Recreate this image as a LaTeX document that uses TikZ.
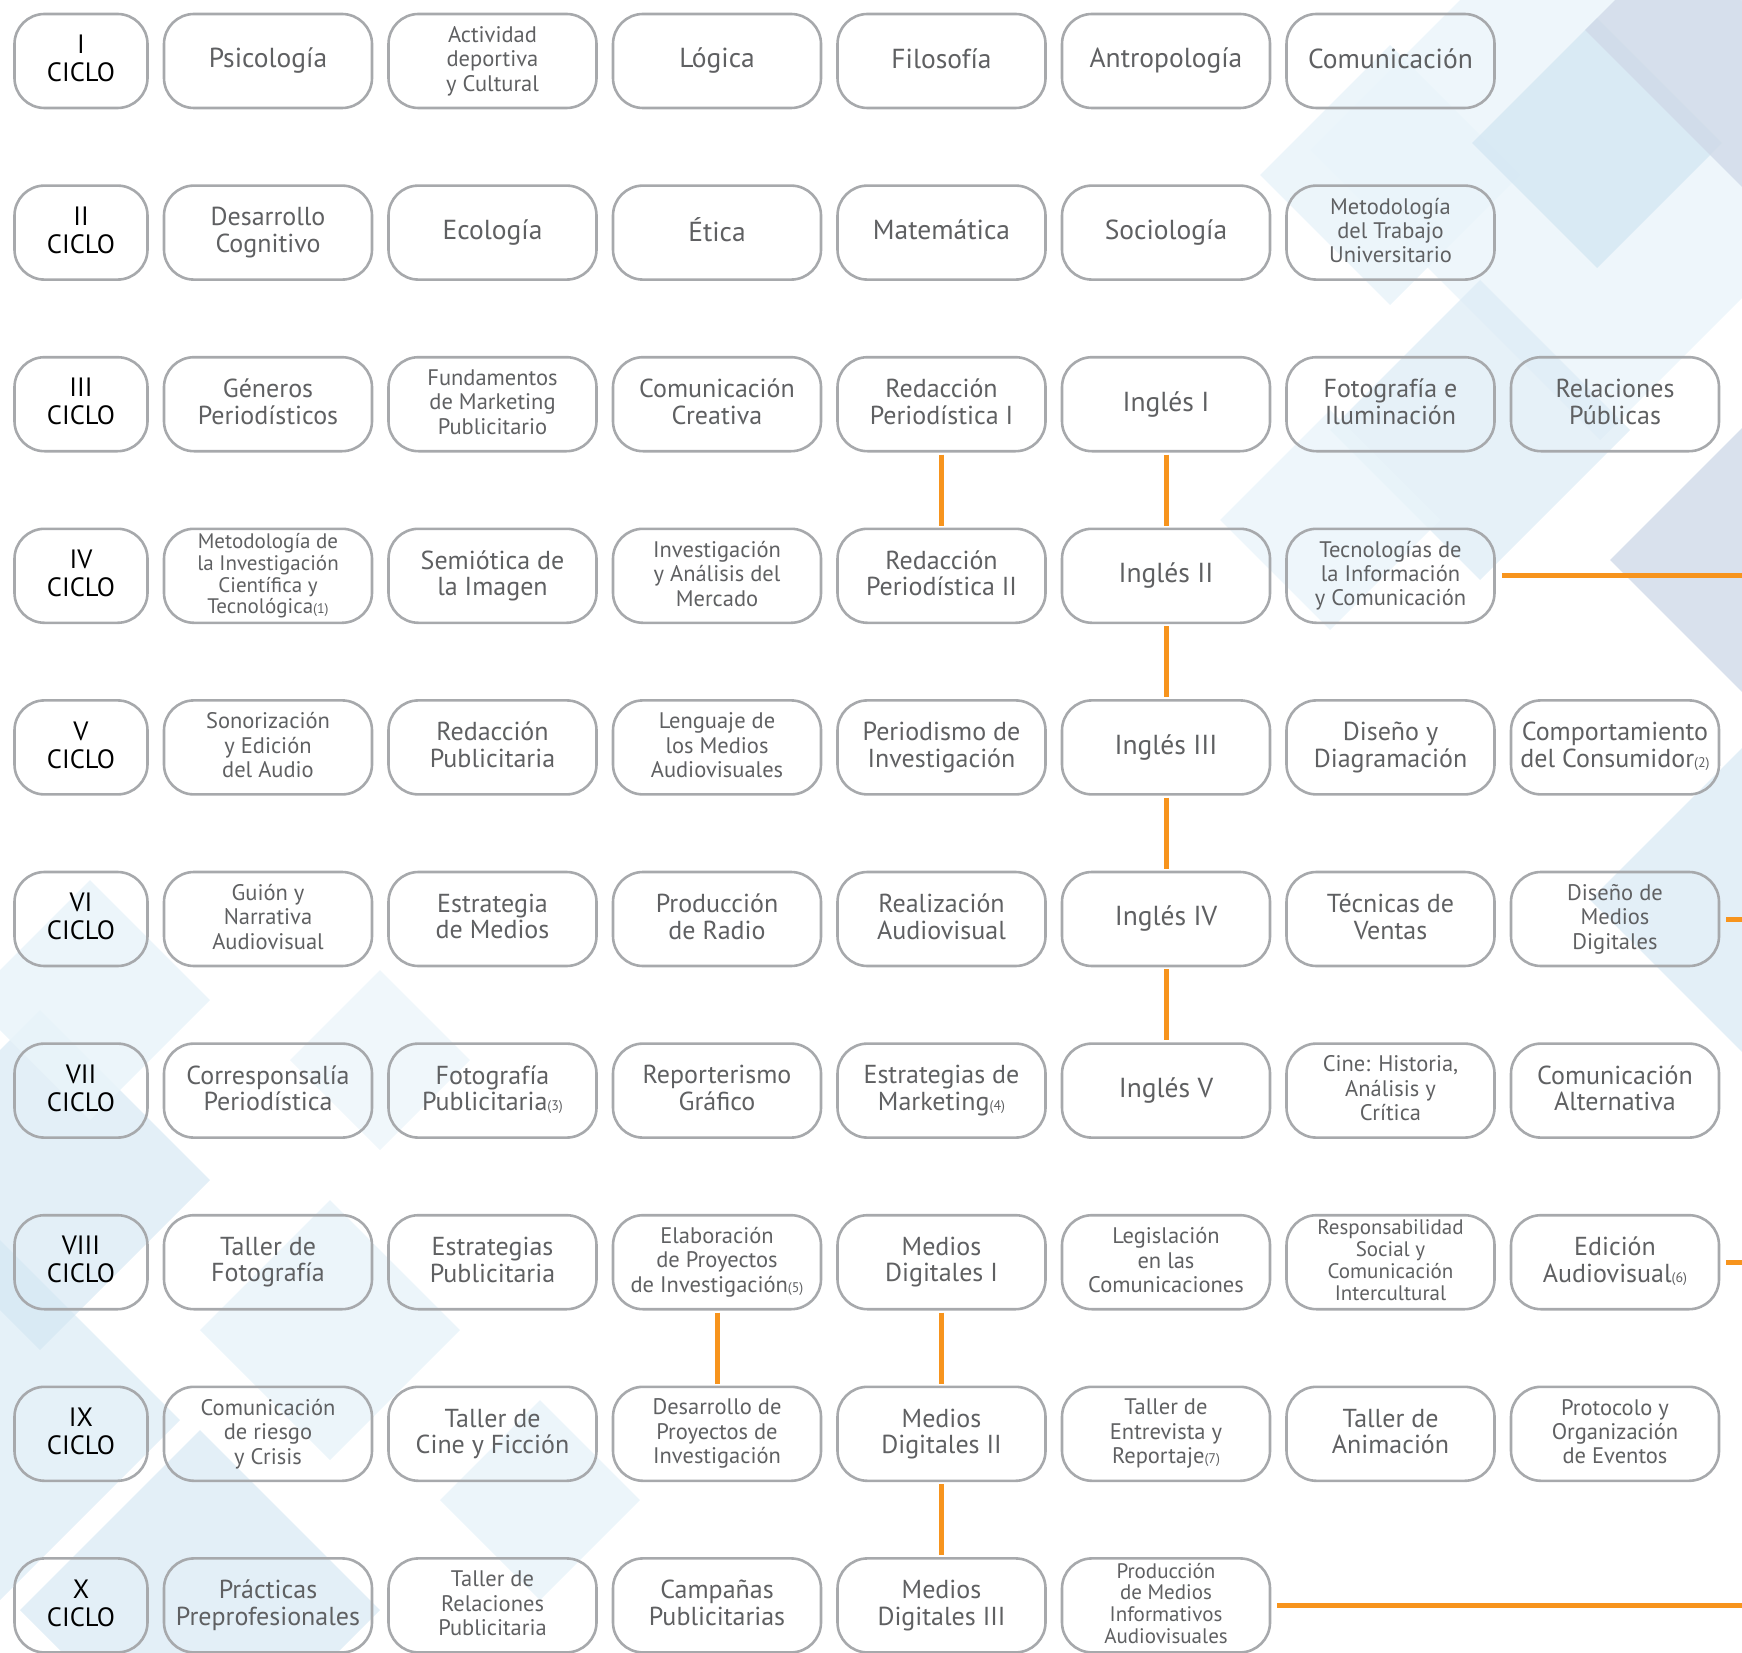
\documentclass[tikz,border=0pt]{standalone}
\usepackage{fontspec}
\setmainfont{PT Sans}
\definecolor{boxgray}{HTML}{A7A9AC}
\definecolor{textgray}{HTML}{5F6062}
\definecolor{orng}{HTML}{F7941D}
\definecolor{bgA}{HTML}{EAF4FA}
\definecolor{bgB}{HTML}{D4E7F3}
\definecolor{bgC}{HTML}{D0DAE8}
\definecolor{bgD}{HTML}{DCEBF5}
\newcommand\nsub[1]{{\fontsize{14}{14}\selectfont(#1)}}
\newcommand\cell[4]{\node[box,#3] (r#1c#2) at ({268+(#2-1)*224.5},{61+#1*171.6}) {#4};}
\newcommand\cyc[2]{\node[ciclo] (r#1c0) at (81,{61+#1*171.6}) {#2\\CICLO};}
\newcommand\dia[4]{\fill[#4] (#1,#2) +(-#3,0) -- +(0,-#3) -- +(#3,0) -- +(0,#3) -- cycle;}
\newcommand\tstrut{\vrule width 0pt height 0.72em depth 0.2em\relax}
\tikzset{
  box/.style={draw=boxgray, line width=2.6pt, rounded corners=30pt, minimum width=208pt,
    minimum height=94pt, align=center, text=textgray, inner sep=0pt,
    execute at begin node=\tstrut, execute at end node=\tstrut},
  ciclo/.style={box, minimum width=133pt, text=black, font=\fontsize{26.5}{28}\selectfont},
  fa/.style={font=\fontsize{27.5}{28}\selectfont},
  fb/.style={font=\fontsize{26}{26.5}\selectfont},
  fc/.style={font=\fontsize{22.5}{24.4}\selectfont},
  fd/.style={font=\fontsize{21}{21.8}\selectfont},
  conn/.style={draw=orng, line width=5pt, shorten <=2pt, shorten >=2pt},
  hconn/.style={draw=orng, line width=5pt, shorten <=6pt}
}
\begin{document}
\begin{tikzpicture}[x=1pt,y=-1pt]
\useasboundingbox (0,0) rectangle (1742,1653);
\begin{scope}
\clip (0,0) rectangle (1742,1653);
% background diamonds top right
\dia{1600}{150}{290}{bgA, opacity=0.8}
\dia{1390}{175}{130}{bgA, opacity=0.9}
\dia{1597}{143}{125}{bgB, opacity=0.8}
\dia{1760}{30}{175}{bgC, opacity=0.8}
\dia{1480}{430}{150}{bgD, opacity=0.7}
\dia{1800}{560}{190}{bgC, opacity=0.8}
\dia{1330}{520}{110}{bgA, opacity=0.8}
\dia{1760}{900}{170}{bgD, opacity=0.8}
% background diamonds bottom left
\dia{40}{1180}{170}{bgD, opacity=0.8}
\dia{-30}{1420}{210}{bgB, opacity=0.6}
\dia{200}{1610}{180}{bgD, opacity=0.8}
\dia{330}{1330}{130}{bgA, opacity=0.9}
\dia{90}{1000}{120}{bgA, opacity=0.9}
\dia{540}{1500}{100}{bgA, opacity=0.9}
\dia{380}{1060}{90}{bgA, opacity=0.7}
\end{scope}
% row I
\cyc{0}{I}
\cell{0}{1}{fa}{Psicología}
\cell{0}{2}{fc}{Actividad\\deportiva\\y Cultural}
\cell{0}{3}{fa}{Lógica}
\cell{0}{4}{fa}{Filosofía}
\cell{0}{5}{fa}{Antropología}
\cell{0}{6}{fa}{Comunicación}
% row II
\cyc{1}{II}
\cell{1}{1}{fb}{Desarrollo\\Cognitivo}
\cell{1}{2}{fa}{Ecología}
\cell{1}{3}{fa}{Ética}
\cell{1}{4}{fa}{Matemática}
\cell{1}{5}{fa}{Sociología}
\cell{1}{6}{fc}{Metodología\\del Trabajo\\Universitario}
% row III
\cyc{2}{III}
\cell{2}{1}{fb}{Géneros\\Periodísticos}
\cell{2}{2}{fc}{Fundamentos\\de Marketing\\Publicitario}
\cell{2}{3}{fb}{Comunicación\\Creativa}
\cell{2}{4}{fb}{Redacción\\Periodística I}
\cell{2}{5}{fa}{Inglés I}
\cell{2}{6}{fb}{Fotografía e\\Iluminación}
\cell{2}{7}{fb}{Relaciones\\Públicas}
% row IV
\cyc{3}{IV}
\cell{3}{1}{fd}{Metodología de\\la Investigación\\Científica y\\Tecnológica\nsub{1}}
\cell{3}{2}{fb}{Semiótica de\\la Imagen}
\cell{3}{3}{fc}{Investigación\\y Análisis del\\Mercado}
\cell{3}{4}{fb}{Redacción\\Periodística II}
\cell{3}{5}{fa}{Inglés II}
\cell{3}{6}{fc}{Tecnologías de\\la Información\\y Comunicación}
% row V
\cyc{4}{V}
\cell{4}{1}{fc}{Sonorización\\y Edición\\del Audio}
\cell{4}{2}{fb}{Redacción\\Publicitaria}
\cell{4}{3}{fc}{Lenguaje de\\los Medios\\Audiovisuales}
\cell{4}{4}{fb}{Periodismo de\\Investigación}
\cell{4}{5}{fa}{Inglés III}
\cell{4}{6}{fb}{Diseño y\\Diagramación}
\cell{4}{7}{fb}{Comportamiento\\del Consumidor\nsub{2}}
% row VI
\cyc{5}{VI}
\cell{5}{1}{fc}{Guión y\\Narrativa\\Audiovisual}
\cell{5}{2}{fb}{Estrategia\\de Medios}
\cell{5}{3}{fb}{Producción\\de Radio}
\cell{5}{4}{fb}{Realización\\Audiovisual}
\cell{5}{5}{fa}{Inglés IV}
\cell{5}{6}{fb}{Técnicas de\\Ventas}
\cell{5}{7}{fc}{Diseño de\\Medios\\Digitales}
% row VII
\cyc{6}{VII}
\cell{6}{1}{fb}{Corresponsalía\\Periodística}
\cell{6}{2}{fb}{Fotografía\\Publicitaria\nsub{3}}
\cell{6}{3}{fb}{Reporterismo\\Gráfico}
\cell{6}{4}{fb}{Estrategias de\\Marketing\nsub{4}}
\cell{6}{5}{fa}{Inglés V}
\cell{6}{6}{fc}{Cine: Historia,\\Análisis y\\Crítica}
\cell{6}{7}{fb}{Comunicación\\Alternativa}
% row VIII
\cyc{7}{VIII}
\cell{7}{1}{fb}{Taller de\\Fotografía}
\cell{7}{2}{fb}{Estrategias\\Publicitaria}
\cell{7}{3}{fc}{Elaboración\\de Proyectos\\de Investigación\nsub{5}}
\cell{7}{4}{fb}{Medios\\Digitales I}
\cell{7}{5}{fc}{Legislación\\en las\\Comunicaciones}
\cell{7}{6}{fd}{Responsabilidad\\Social y\\Comunicación\\Intercultural}
\cell{7}{7}{fb}{Edición\\Audiovisual\nsub{6}}
% row IX
\cyc{8}{IX}
\cell{8}{1}{fc}{Comunicación\\de riesgo\\y Crisis}
\cell{8}{2}{fb}{Taller de\\Cine y Ficción}
\cell{8}{3}{fc}{Desarrollo de\\Proyectos de\\Investigación}
\cell{8}{4}{fb}{Medios\\Digitales II}
\cell{8}{5}{fc}{Taller de\\Entrevista y\\Reportaje\nsub{7}}
\cell{8}{6}{fb}{Taller de\\Animación}
\cell{8}{7}{fc}{Protocolo y\\Organización\\de Eventos}
% row X
\cyc{9}{X}
\cell{9}{1}{fb}{Prácticas\\Preprofesionales}
\cell{9}{2}{fc}{Taller de\\Relaciones\\Publicitaria}
\cell{9}{3}{fb}{Campañas\\Publicitarias}
\cell{9}{4}{fb}{Medios\\Digitales III}
\cell{9}{5}{fd}{Producción\\de Medios\\Informativos\\Audiovisuales}
% connectors
\draw[conn] (r2c4) -- (r3c4);
\draw[conn] (r2c5) -- (r3c5);
\draw[conn] (r3c5) -- (r4c5);
\draw[conn] (r4c5) -- (r5c5);
\draw[conn] (r5c5) -- (r6c5);
\draw[conn] (r7c3) -- (r8c3);
\draw[conn] (r7c4) -- (r8c4);
\draw[conn] (r8c4) -- (r9c4);
\coordinate (e3) at (1742,{61+3*171.6});
\coordinate (e5) at (1742,{61+5*171.6});
\coordinate (e7) at (1742,{61+7*171.6});
\coordinate (e9) at (1742,{61+9*171.6});
\draw[hconn] (r3c6) -- (e3);
\draw[hconn] (r5c7) -- (e5);
\draw[hconn] (r7c7) -- (e7);
\draw[hconn] (r9c5) -- (e9);
\end{tikzpicture}
\end{document}
